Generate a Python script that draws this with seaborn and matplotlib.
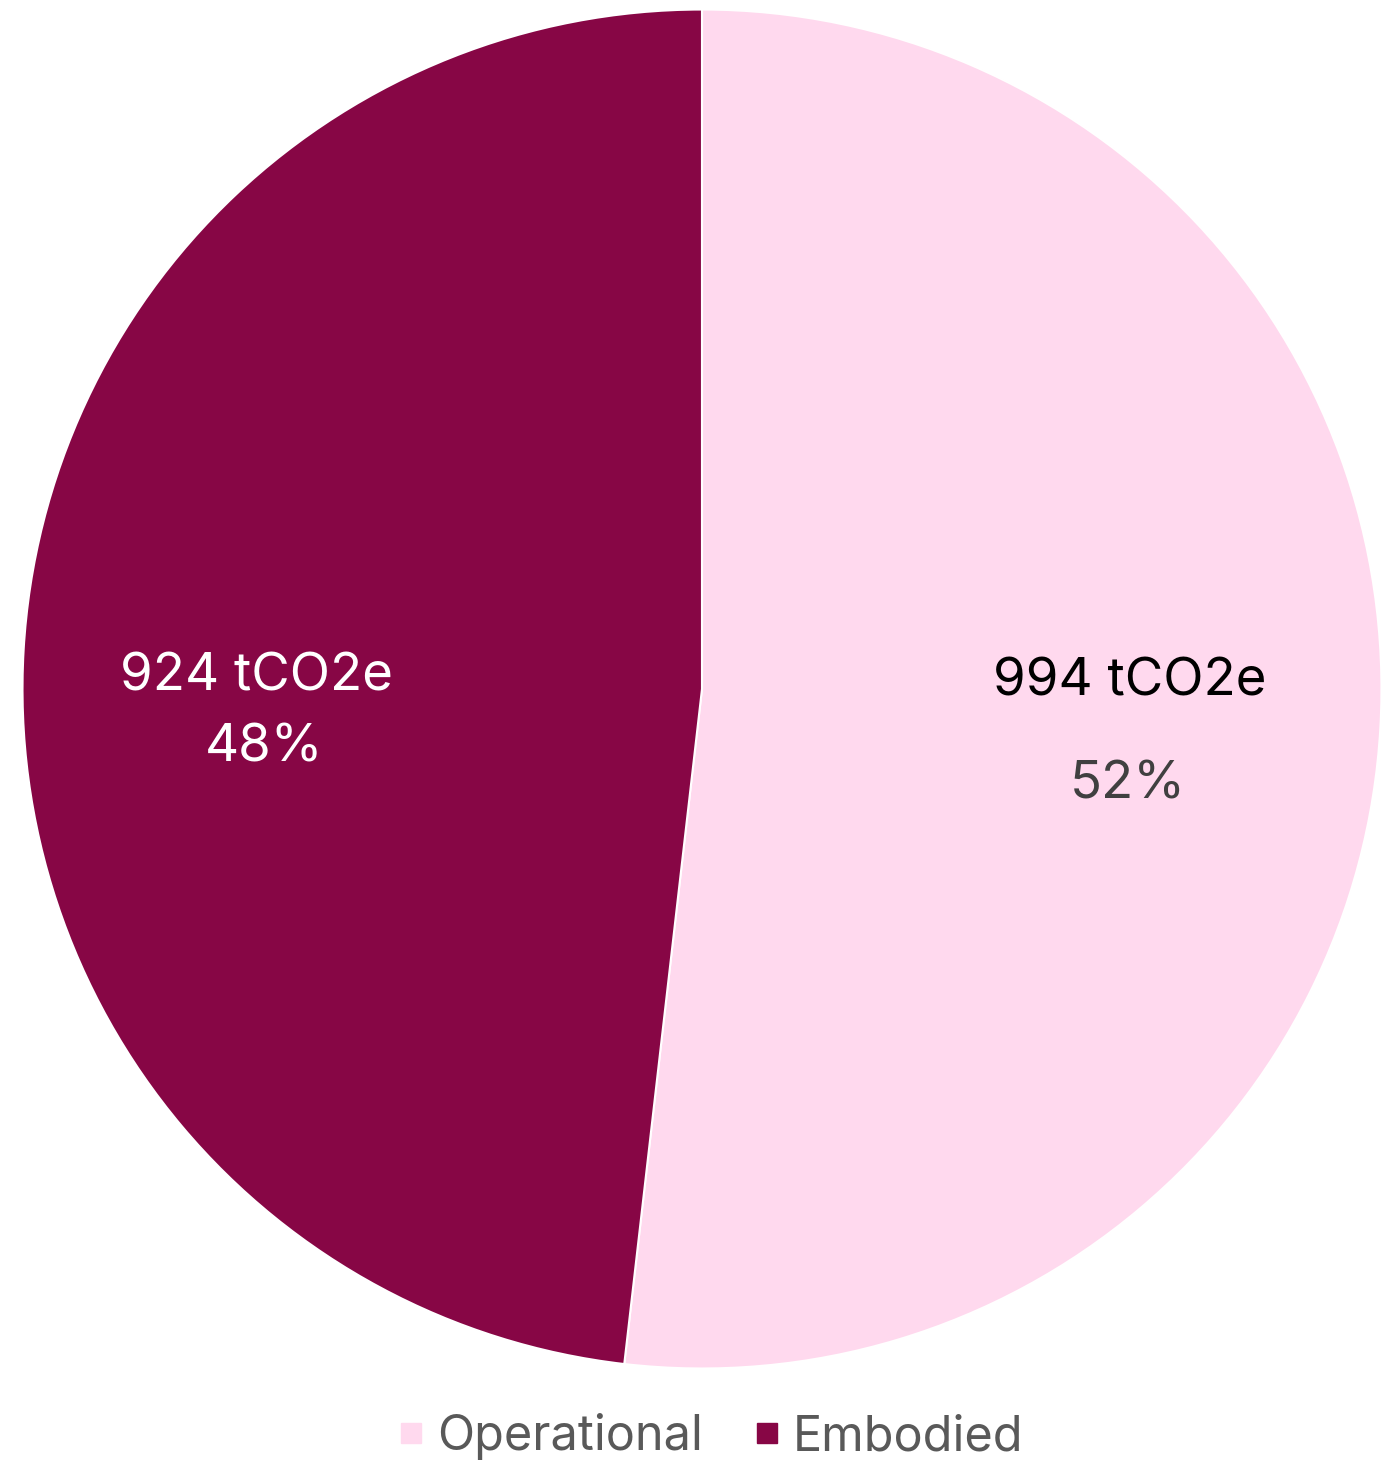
import matplotlib
matplotlib.use("Agg")
import matplotlib.pyplot as plt
from matplotlib.lines import Line2D
import seaborn as sns
import numpy as np

categories = ["Operational", "Embodied"]
values = [994, 924]
value_labels = ["994 tCO2e", "924 tCO2e"]
pct_labels = ["52%", "48%"]
colors = ["#FFD9EE", "#870645"]

sns.set_theme(style="white")
plt.rcParams['font.family'] = ['Inter', 'DejaVu Sans']

fig = plt.figure(figsize=(13.85, 14.61), dpi=100)
ax = fig.add_axes([0.01625, 0.0633, 0.9812, 0.9302])
wedges, _ = ax.pie(values, colors=colors, startangle=90, counterclock=False,
                   radius=1.0, wedgeprops=dict(edgecolor="white", linewidth=1.5))
ax.set_xlim(-1, 1)
ax.set_ylim(-1, 1)
ax.set_aspect("equal")
ax.axis("off")

# labels
fs = 38
ax.text(0.629, 0.010, value_labels[0], ha="center", va="center", fontsize=fs, color="#000000")
ax.text(0.626, -0.141, pct_labels[0], ha="center", va="center", fontsize=fs, color="#404040")
ax.text(-0.656, 0.018, value_labels[1], ha="center", va="center", fontsize=fs, color="white")
ax.text(-0.645, -0.087, pct_labels[1], ha="center", va="center", fontsize=fs, color="white")

handles = [Line2D([0], [0], marker="s", linestyle="none", markersize=15,
                  markerfacecolor=c, markeredgecolor=c) for c in colors]
fig.legend(handles, categories, loc="center", bbox_to_anchor=(710/1385, 1 - 1437/1461),
           ncol=2, frameon=False, fontsize=35, labelcolor="#595959",
           handletextpad=0.25, columnspacing=1.0, handlelength=0.6)

fig.savefig("out.png", dpi=100, facecolor="white")
